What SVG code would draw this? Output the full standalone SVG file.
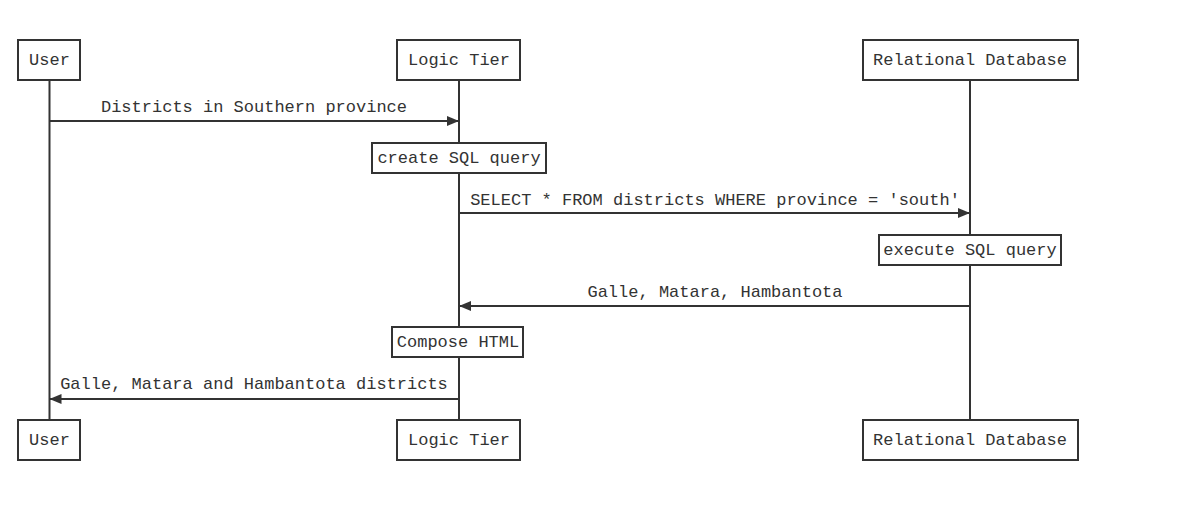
<svg xmlns="http://www.w3.org/2000/svg" width="1185" height="514" viewBox="0 0 1185 514">
<style>
.box{fill:#fff;stroke:#333;stroke-width:2}
.life{stroke:#333;stroke-width:2;fill:none}
.msg{stroke:#333;stroke-width:2;fill:none;marker-end:url(#arr)}
text{font-family:"Liberation Mono","Courier New",monospace;font-size:17px;fill:#333;text-anchor:middle}
</style>
<defs>
<marker id="arr" viewBox="0 0 12 10" refX="12" refY="5" markerWidth="12" markerHeight="10" markerUnits="userSpaceOnUse" orient="auto">
<path d="M0,0 L12,5 L0,10 z" fill="#333"/>
</marker>
</defs>
<rect width="1185" height="514" fill="#fff"/>
<g id="lifelines">
<line class="life" x1="49.5" y1="80" x2="49.5" y2="420"/>
<line class="life" x1="459" y1="80" x2="459" y2="420"/>
<line class="life" x1="970" y1="80" x2="970" y2="420"/>
</g>
<g id="connectors">
<line class="msg" x1="49.5" y1="121" x2="459" y2="121"/>
<text x="254" y="112">Districts in Southern province</text>
<line class="msg" x1="459" y1="213" x2="970" y2="213"/>
<text x="715" y="205">SELECT * FROM districts WHERE province = 'south'</text>
<line class="msg" x1="970" y1="306" x2="459" y2="306"/>
<text x="715" y="297">Galle, Matara, Hambantota</text>
<line class="msg" x1="459" y1="399" x2="49.5" y2="399"/>
<text x="254" y="389">Galle, Matara and Hambantota districts</text>
</g>
<g id="user-top"><rect class="box" x="18" y="40" width="62" height="40"/><text x="49.5" y="65">User</text></g>
<g id="logic-top"><rect class="box" x="397" y="40" width="123" height="40"/><text x="459" y="65">Logic Tier</text></g>
<g id="db-top"><rect class="box" x="863" y="40" width="215" height="40"/><text x="970" y="65">Relational Database</text></g>
<g id="create-sql"><rect class="box" x="372" y="143" width="174" height="30"/><text x="459" y="163">create SQL query</text></g>
<g id="execute-sql"><rect class="box" x="879" y="235" width="182" height="30"/><text x="970" y="255">execute SQL query</text></g>
<g id="compose-html"><rect class="box" x="392" y="327" width="131" height="30"/><text x="458" y="347">Compose HTML</text></g>
<g id="user-bottom"><rect class="box" x="18" y="420" width="62" height="40"/><text x="49.5" y="445">User</text></g>
<g id="logic-bottom"><rect class="box" x="397" y="420" width="123" height="40"/><text x="459" y="445">Logic Tier</text></g>
<g id="db-bottom"><rect class="box" x="863" y="420" width="215" height="40"/><text x="970" y="445">Relational Database</text></g>
</svg>
